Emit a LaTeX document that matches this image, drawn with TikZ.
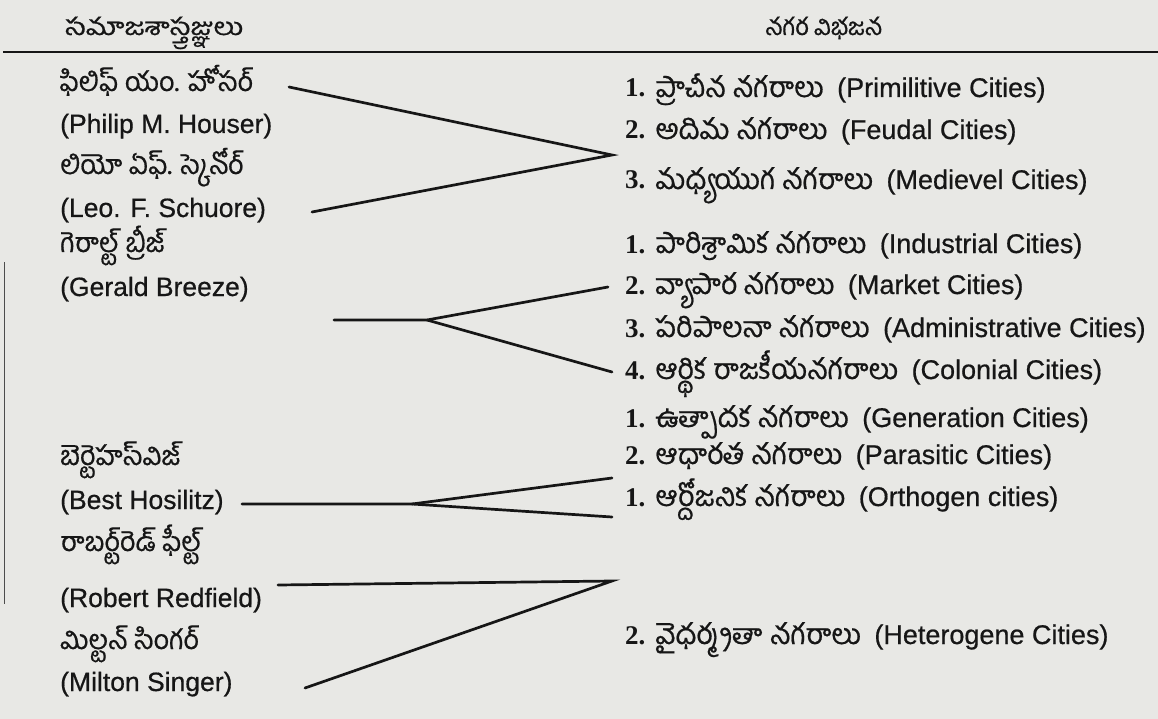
\documentclass[tikz,border=0pt]{standalone}
\usepackage{fontspec}
\setmainfont[FakeBold=0.6]{Liberation Sans}
\newfontfamily\myTe[Script=Telugu,FakeBold=0.6]{Hind Guntur}
\newfontfamily\myTeW[Script=Telugu,FakeStretch=1.2,FakeBold=0.6]{Hind Guntur}
\newfontfamily\myNum{Liberation Serif}
\definecolor{paper}{RGB}{232,232,229}
\definecolor{ink}{RGB}{22,22,22}
\begin{document}
\begin{tikzpicture}[x=1pt,y=-1pt]
\tikzset{
  lab/.style={anchor=base west, inner sep=0pt, text=ink, font=\fontsize{26.5}{30}\selectfont},
  rlab/.style={lab, font=\fontsize{27}{31}\selectfont},
  head/.style={lab, font=\fontsize{24}{28}\selectfont},
  conn/.style={line width=2.7pt, draw=ink, line cap=round},
  rule/.style={line width=2.4pt, draw=ink},
  edge/.style={line width=0.9pt, draw=black!70}
}
\newcommand{\nm}[1]{{\myNum\bfseries #1}}
\newcommand{\lte}[1]{{\fontsize{27}{31}\selectfont\myTe #1}}
\fill[paper] (0,0) rectangle (1158,719);
\useasboundingbox (0,0) rectangle (1158,719);

% header
\node[head] (hl) at (65,35) {\myTeW సమాజశాస్త్రజ్ఞులు};
\node[head] (hr) at (765,35) {\myTe నగర విభజన};
\coordinate (r0) at (3,52);
\coordinate (r1) at (1158,52);
\draw[rule] (r0) -- (r1);

% left column
\node[lab] (t1) at (60,91)  {\lte{ఫిలిఫ్ యం. హోసర్}};
\node[lab] (e1) at (60,133) {(Philip M. Houser)};
\node[lab] (t2) at (60,174) {\lte{లియో ఏఫ్. స్కెనోర్}};
\node[lab] (e2) at (60,217) {(Leo. F. Schuore)};
\node[lab] (t3) at (60,252) {\lte{గెరాల్ట్ బ్రీజ్}};
\node[lab] (e3) at (60,296) {(Gerald Breeze)};
\node[lab] (t4) at (60,465) {\lte{బెర్టెహస్‌విజ్}};
\node[lab] (e4) at (60,509) {(Best Hosilitz)};
\node[lab] (t5) at (60,551) {\lte{రాబర్ట్‌రెడ్ ఫీల్ట్}};
\node[lab] (e5) at (60,607) {(Robert Redfield)};
\node[lab] (t6) at (60,649) {\lte{మిల్టన్ సింగర్}};
\node[lab] (e6) at (60,691) {(Milton Singer)};

% right column
\newcommand{\row}[3]{\nm{#1} {\fontsize{28.5}{32}\selectfont\myTe #2}\hspace{0.5em}(#3)}
\node[rlab] (a1) at (625,97)  {\row{1.}{ప్రాచీన నగరాలు}{Primilitive Cities}};
\node[rlab] (a2) at (625,139) {\row{2.}{అదిమ నగరాలు}{Feudal Cities}};
\node[rlab] (a3) at (625,189) {\row{3.}{మధ్యయుగ నగరాలు}{Medievel Cities}};
\node[rlab] (b1) at (625,253) {\row{1.}{పారిశ్రామిక నగరాలు}{Industrial Cities}};
\node[rlab] (b2) at (625,294) {\row{2.}{వ్యాపార నగరాలు}{Market Cities}};
\node[rlab] (b3) at (625,337) {\row{3.}{పరిపాలనా నగరాలు}{Administrative Cities}};
\node[rlab] (b4) at (625,379) {\row{4.}{ఆర్థిక రాజకీయనగరాలు}{Colonial Cities}};
\node[rlab] (c1) at (625,427) {\row{1.}{ఉత్పాదక నగరాలు}{Generation Cities}};
\node[rlab] (c2) at (625,464) {\row{2.}{ఆధారత నగరాలు}{Parasitic Cities}};
\node[rlab] (d1) at (625,506) {\row{1.}{ఆర్దోజనిక నగరాలు}{Orthogen cities}};
\node[rlab] (d2) at (625,644) {\row{2.}{వైధర్మ్యతా నగరాలు}{Heterogene Cities}};

% group 1
\coordinate (g1a) at (289,87);
\coordinate (g1b) at (312,212);
\coordinate (g1x) at (612,155);
\draw[conn] (g1a) -- (g1x) -- (g1b);

% group 2
\coordinate (g2s) at (334,320);
\coordinate (g2x) at (427,320);
\coordinate (g2u) at (608,287);
\coordinate (g2d) at (612,372);
\draw[conn] (g2s) -- (g2x) -- (g2u);
\draw[conn] (g2x) -- (g2d);

% group 3
\coordinate (g3s) at (242,504);
\coordinate (g3x) at (412,504);
\coordinate (g3u) at (612,478);
\coordinate (g3d) at (612,517);
\draw[conn] (g3s) -- (g3x) -- (g3u);
\draw[conn] (g3x) -- (g3d);

% group 4
\coordinate (g4a) at (278,585);
\coordinate (g4b) at (305,688);
\coordinate (g4x) at (612,581);
\draw[conn] (g4a) -- (g4x) -- (g4b);

% page edge at left
\coordinate (v0) at (4,262);
\coordinate (v1) at (4,604);
\draw[edge] (v0) -- (v1);
\end{tikzpicture}
\end{document}
